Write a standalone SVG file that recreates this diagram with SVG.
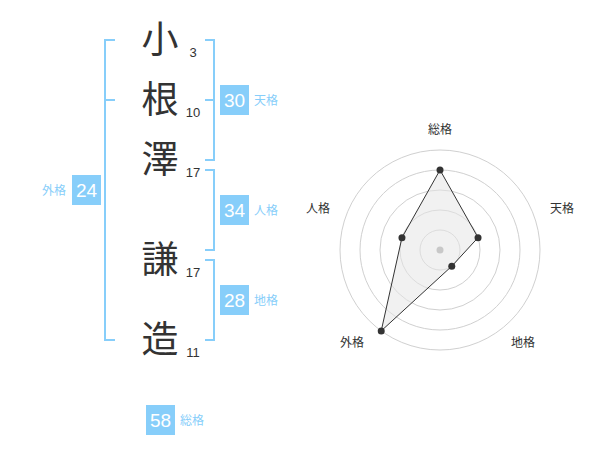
<svg xmlns="http://www.w3.org/2000/svg" width="600" height="470" viewBox="0 0 600 470">
<style>
.k{font-family:"Noto Sans CJK JP","Noto Sans CJK SC",sans-serif;font-size:37px;fill:#333;text-anchor:middle}
.n{font-family:"Liberation Sans",Arial,sans-serif;font-size:13px;fill:#333;text-anchor:middle}
.br{fill:none;stroke:#87CEFA;stroke-width:2}
.bx{fill:#87CEFA}
.bn{font-family:"Liberation Sans",Arial,sans-serif;font-size:19px;fill:#fff;text-anchor:middle}
.bl{font-family:"Noto Sans CJK JP","Noto Sans CJK SC",sans-serif;font-size:12px;fill:#87CEFA}
.ring{fill:none;stroke:#d0d0d0;stroke-width:1}
.rl{font-family:"Noto Sans CJK JP","Noto Sans CJK SC",sans-serif;font-size:12px;fill:#333;text-anchor:middle}
.dot{fill:#333}
</style>
<g id="connectors">
<path class="br" d="M115,40 H105 V340 H115 M105,100 H115"/>
<path class="br" d="M205,40 H214 V160 H205 M214,100 H205"/>
<path class="br" d="M205,170 H214 V250 H205"/>
<path class="br" d="M205,260 H214 V340 H205"/>
</g>
<g id="char1"><text class="k" x="160" y="53">小</text><text class="n" x="193" y="57">3</text></g>
<g id="char2"><text class="k" x="160" y="113">根</text><text class="n" x="193" y="117">10</text></g>
<g id="char3"><text class="k" x="160" y="173">澤</text><text class="n" x="193" y="177">17</text></g>
<g id="char4"><text class="k" x="160" y="273">謙</text><text class="n" x="193" y="277">17</text></g>
<g id="char5"><text class="k" x="160" y="353">造</text><text class="n" x="193" y="357">11</text></g>
<g id="tenkaku"><rect class="bx" x="220" y="85" width="29" height="30"/><text class="bn" x="234.5" y="107">30</text><text class="bl" x="254" y="105">天格</text></g>
<g id="jinkaku"><rect class="bx" x="220" y="195" width="29" height="30"/><text class="bn" x="234.5" y="217">34</text><text class="bl" x="254" y="215">人格</text></g>
<g id="chikaku"><rect class="bx" x="220" y="285" width="29" height="30"/><text class="bn" x="234.5" y="307">28</text><text class="bl" x="254" y="305">地格</text></g>
<g id="gaikaku"><rect class="bx" x="72" y="175" width="29" height="30"/><text class="bn" x="86.5" y="197">24</text><text class="bl" x="66" y="195" text-anchor="end">外格</text></g>
<g id="soukaku"><rect class="bx" x="146" y="405" width="29" height="30"/><text class="bn" x="160.5" y="427">58</text><text class="bl" x="180" y="425">総格</text></g>
<g id="radar">
<circle class="ring" cx="440" cy="250" r="20"/>
<circle class="ring" cx="440" cy="250" r="40"/>
<circle class="ring" cx="440" cy="250" r="60"/>
<circle class="ring" cx="440" cy="250" r="80"/>
<circle class="ring" cx="440" cy="250" r="100"/>
<polygon points="440,170 478.04,237.64 451.76,266.18 381.22,330.9 401.96,237.64" fill="#e6e6e6" fill-opacity="0.55" stroke="#333" stroke-width="1"/>
<circle cx="440" cy="250" r="3.5" fill="#c8c8c8"/>
<circle class="dot" cx="440" cy="170" r="3.5"/>
<circle class="dot" cx="478.04" cy="237.64" r="3.5"/>
<circle class="dot" cx="451.76" cy="266.18" r="3.5"/>
<circle class="dot" cx="381.22" cy="330.9" r="3.5"/>
<circle class="dot" cx="401.96" cy="237.64" r="3.5"/>
<text class="rl" x="440" y="134">総格</text>
<text class="rl" x="562" y="213">天格</text>
<text class="rl" x="523" y="347">地格</text>
<text class="rl" x="352" y="347">外格</text>
<text class="rl" x="318" y="213">人格</text>
</g>
</svg>
